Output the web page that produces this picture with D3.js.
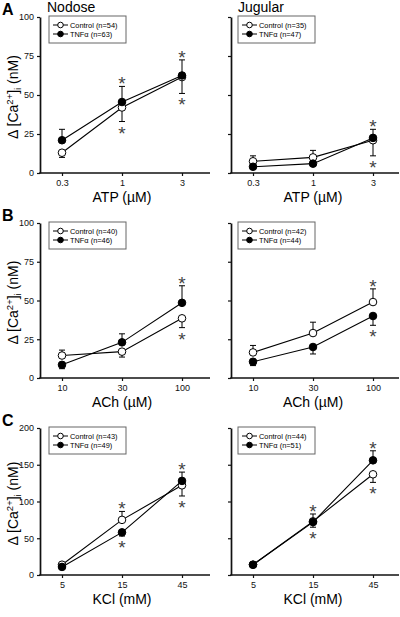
<!DOCTYPE html>
<html><head><meta charset="utf-8">
<script src="https://cdn.jsdelivr.net/npm/d3@7"></script>
<style>html,body{margin:0;padding:0;background:#fff}svg{display:block}</style>
</head><body>
<script>
// ---------- data ----------
const atpDoses = ["0.3", "1", "3"];
const achDoses = ["10", "30", "100"];
const kclDoses = ["5", "15", "45"];
const yTicksAB = [0, 25, 50, 75, 100];
const yTicksC = [0, 50, 100, 150, 200];
const ganglia = ["Nodose", "Jugular"];
const rowLetters = ["A", "B", "C"];
const xTitles = ["ATP (\u00B5M)", "ACh (\u00B5M)", "KCl (mM)"];

// Nodose ATP
const nodATPctl = [13, 42, 61.5], nodATPctlErr = [3, 9, 10.5], nodATPctlDir = [-1, -1, -1], nodATPctlStar = [0, -1, -1];
const nodATPtnf = [21, 45.5, 62.5], nodATPtnfErr = [7, 10, 10], nodATPtnfDir = [1, 1, 1], nodATPtnfStar = [0, 1, 1];
// Jugular ATP
const jugATPctl = [7.5, 10, 21], jugATPctlErr = [3.5, 4.5, 10], jugATPctlDir = [1, 1, -1], jugATPctlStar = [0, 0, -1];
const jugATPtnf = [4, 6, 22.5], jugATPtnfErr = [1, 1, 5.5], jugATPtnfDir = [-1, -1, 1], jugATPtnfStar = [0, 0, 1];
// Nodose ACh
const nodAChctl = [14.5, 17, 38.5], nodAChctlErr = [3.5, 3.5, 6], nodAChctlDir = [1, -1, -1], nodAChctlStar = [0, 0, -1];
const nodAChtnf = [8.5, 23, 48.5], nodAChtnfErr = [2.5, 5.5, 11], nodAChtnfDir = [-1, 1, 1], nodAChtnfStar = [0, 0, 1];
// Jugular ACh
const jugAChctl = [16.5, 29, 49], jugAChctlErr = [4.5, 7, 8.5], jugAChctlDir = [1, 1, 1], jugAChctlStar = [0, 0, 1];
const jugAChtnf = [10.5, 20, 40], jugAChtnfErr = [2.5, 4.5, 6], jugAChtnfDir = [-1, -1, -1], jugAChtnfStar = [0, 0, -1];
// Nodose KCl
const nodKClctl = [14, 75, 122], nodKClctlErr = [2, 11.5, 14.5], nodKClctlDir = [1, 1, -1], nodKClctlStar = [0, 1, -1];
const nodKCltnf = [11, 58, 128], nodKCltnfErr = [2, 5, 12], nodKCltnfDir = [-1, -1, 1], nodKCltnfStar = [0, -1, 1];
// Jugular KCl
const jugKClctl = [14, 73, 137], jugKClctlErr = [2, 10, 11], jugKClctlDir = [1, 1, -1], jugKClctlStar = [0, 1, -1];
const jugKCltnf = [14, 72, 156], jugKCltnfErr = [2, 7, 13], jugKCltnfDir = [-1, -1, 1], jugKCltnfStar = [0, -1, 1];

const legendCtl = ["Control (n=54)", "Control (n=35)", "Control (n=40)", "Control (n=42)", "Control (n=43)", "Control (n=44)"];
const legendTnf = ["TNF\u03B1 (n=63)", "TNF\u03B1 (n=47)", "TNF\u03B1 (n=46)", "TNF\u03B1 (n=44)", "TNF\u03B1 (n=49)", "TNF\u03B1 (n=51)"];

// ---------- layout ----------
const FONT = "'Liberation Sans', Arial, Helvetica, sans-serif";
const rows = [
  {top: 17, bottom: 173, doses: atpDoses, ymax: 100, ticks: yTicksAB},
  {top: 223, bottom: 378, doses: achDoses, ymax: 100, ticks: yTicksAB},
  {top: 428, bottom: 575, doses: kclDoses, ymax: 200, ticks: yTicksC}
];
const cols = [{x0: 40, x1: 210}, {x0: 231, x1: 399}];
const series = [
  [[nodATPctl, nodATPctlErr, nodATPctlDir, nodATPctlStar, nodATPtnf, nodATPtnfErr, nodATPtnfDir, nodATPtnfStar],
   [jugATPctl, jugATPctlErr, jugATPctlDir, jugATPctlStar, jugATPtnf, jugATPtnfErr, jugATPtnfDir, jugATPtnfStar]],
  [[nodAChctl, nodAChctlErr, nodAChctlDir, nodAChctlStar, nodAChtnf, nodAChtnfErr, nodAChtnfDir, nodAChtnfStar],
   [jugAChctl, jugAChctlErr, jugAChctlDir, jugAChctlStar, jugAChtnf, jugAChtnfErr, jugAChtnfDir, jugAChtnfStar]],
  [[nodKClctl, nodKClctlErr, nodKClctlDir, nodKClctlStar, nodKCltnf, nodKCltnfErr, nodKCltnfDir, nodKCltnfStar],
   [jugKClctl, jugKClctlErr, jugKClctlDir, jugKClctlStar, jugKCltnf, jugKCltnfErr, jugKCltnfDir, jugKCltnfStar]]
];

const svg = d3.select("body").append("svg").attr("width", 400).attr("height", 617)
  .attr("font-family", FONT);

rows.forEach((row, ri) => {
  // panel letter
  svg.append("text").attr("x", 2).attr("y", row.top - 2).attr("font-size", 16)
    .attr("font-weight", "bold").text(rowLetters[ri]);
  // y title
  const yc = (row.top + row.bottom) / 2 + 2;
  const t = svg.append("text").attr("transform", `translate(18,${yc}) rotate(-90)`)
    .attr("text-anchor", "middle").attr("font-size", 14);
  t.append("tspan").text("\u0394 [Ca");
  t.append("tspan").attr("dy", -5).attr("font-size", 9.5).text("2+");
  t.append("tspan").attr("dy", 5).text("]");
  t.append("tspan").attr("dy", 3).attr("font-size", 9.5).text("i");
  t.append("tspan").attr("dy", -3).text(" (nM)");

  cols.forEach((col, ci) => {
    const y = d3.scaleLinear().domain([0, row.ymax]).range([row.bottom, row.top]);
    const x = d3.scalePoint().domain(row.doses).range([col.x0 + 22, col.x0 + 142]);
    const g = svg.append("g");

    if (ri === 0) {
      g.append("text").attr("x", col.x0 + 7).attr("y", 12).attr("font-size", 14).text(ganglia[ci]);
    }

    // y axis
    const ya = g.append("g").attr("transform", `translate(${col.x0},0)`)
      .call(d3.axisLeft(y).tickValues(row.ticks).tickSize(3).tickSizeOuter(0).tickPadding(3)
        .tickFormat(ci === 0 ? d3.format("d") : () => ""));
    ya.select(".domain").attr("stroke", "#111").attr("stroke-width", 1.7);
    ya.selectAll(".tick line").attr("stroke", "#111").attr("stroke-width", 1.2);
    ya.selectAll(".tick text").attr("font-size", 9).attr("font-family", FONT).attr("fill", "#111");

    // x axis
    const xa = g.append("g").attr("transform", `translate(0,${row.bottom})`)
      .call(d3.axisBottom(x).tickSize(3).tickSizeOuter(0).tickPadding(4));
    xa.select(".domain").remove();
    xa.selectAll(".tick line").attr("stroke", "#111").attr("stroke-width", 1.2);
    xa.selectAll(".tick text").attr("font-size", 9).attr("font-family", FONT).attr("fill", "#111");
    g.append("line").attr("x1", col.x0 - 0.8).attr("x2", col.x1).attr("y1", row.bottom).attr("y2", row.bottom)
      .attr("stroke", "#111").attr("stroke-width", 1.7);

    g.append("text").attr("x", col.x0 + 82).attr("y", row.bottom + 29).attr("text-anchor", "middle")
      .attr("font-size", 14).text(xTitles[ri]);

    const s = series[ri][ci];
    const groups = [
      {v: s[0], e: s[1], d: s[2], st: s[3], fill: "#fff"},
      {v: s[4], e: s[5], d: s[6], st: s[7], fill: "#000"}
    ];
    const line = d3.line().x((d, i) => x(row.doses[i])).y(d => y(d));
    // error bars
    groups.forEach(gr => {
      gr.v.forEach((v, i) => {
        const xx = x(row.doses[i]);
        const y1 = y(v + gr.d[i] * gr.e[i]);
        g.append("line").attr("x1", xx).attr("x2", xx).attr("y1", y(v)).attr("y2", y1)
          .attr("stroke", "#000").attr("stroke-width", 1);
        g.append("line").attr("x1", xx - 3).attr("x2", xx + 3).attr("y1", y1).attr("y2", y1)
          .attr("stroke", "#000").attr("stroke-width", 1);
        if (gr.st[i] !== 0) {
          const ye = y(v + gr.st[i] * gr.e[i]);
          const cy = gr.st[i] > 0 ? ye - 7 : ye + 7;
          g.append("text").attr("x", xx).attr("y", cy + 11).attr("text-anchor", "middle")
            .attr("font-size", 19).attr("fill", "#444").text("*");
        }
      });
    });
    groups.forEach(gr => {
      g.append("path").attr("d", line(gr.v)).attr("fill", "none").attr("stroke", "#000").attr("stroke-width", 1.1);
    });
    groups.forEach(gr => {
      g.selectAll(null).data(gr.v).join("circle")
        .attr("cx", (d, i) => x(row.doses[i])).attr("cy", d => y(d)).attr("r", 3.8)
        .attr("fill", gr.fill).attr("stroke", "#000").attr("stroke-width", 1);
    });

    // legend
    const li = ri * 2 + ci;
    const bx = col.x0 + (ci === 0 ? 9 : 7), by = row.top - 1;
    const lg = g.append("g").attr("transform", `translate(${bx},${by})`);
    lg.append("rect").attr("width", 77).attr("height", 27).attr("fill", "#fff")
      .attr("stroke", "#666").attr("stroke-width", 1);
    [[legendCtl[li], "#fff"], [legendTnf[li], "#000"]].forEach(([lab, f], k) => {
      const ly = 9 + k * 9;
      lg.append("line").attr("x1", 4).attr("x2", 19).attr("y1", ly).attr("y2", ly)
        .attr("stroke", "#000").attr("stroke-width", 1);
      lg.append("circle").attr("cx", 11.5).attr("cy", ly).attr("r", 2.8).attr("fill", f)
        .attr("stroke", "#000").attr("stroke-width", 1);
      lg.append("text").attr("x", 21).attr("y", ly + 2.6).attr("font-size", 7.4).text(lab);
    });
  });
});
</script>
</body></html>
